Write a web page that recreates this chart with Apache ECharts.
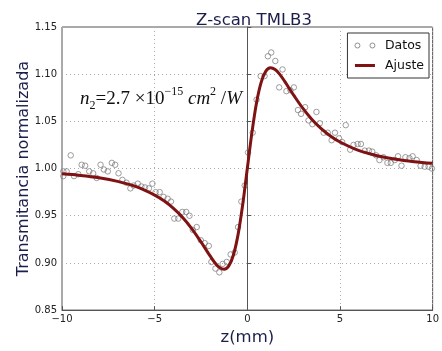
<!DOCTYPE html>
<html>
<head>
<meta charset="utf-8">
<script src="https://cdn.jsdelivr.net/npm/echarts@6/dist/echarts.min.js"></script>
<style>
  html, body { margin: 0; padding: 0; background: #fff; }
  #chart { width: 442px; height: 351px; }
</style>
</head>
<body>
<div id="chart"></div>
<script>
// Measured transmittance (position z in mm)
const dataZ = [
  -9.93, -9.93, -9.75, -9.53, -9.35, -9.12, -8.94, -8.75, -8.53, -8.32, -8.13,
  -7.92, -7.74, -7.53, -7.31, -7.13, -6.95, -6.74, -6.52, -6.31, -6.13, -5.91,
  -5.72, -5.52, -5.31, -5.12, -4.95, -4.73, -4.52, -4.30, -4.12, -3.94, -3.73,
  -3.51, -3.30, -3.12, -2.94, -2.73, -2.51, -2.30, -2.08, -1.94, -1.72, -1.51,
  -1.33, -1.11, -0.90, -0.68, -0.50, -0.32, -0.14, 0.04,
  0.29, 0.50, 0.72, 0.93, 1.11, 1.29, 1.51, 1.72, 1.90, 2.11, 2.33, 2.51, 2.73,
  2.90, 3.12, 3.30, 3.51, 3.73, 3.91, 4.12, 4.34, 4.55, 4.73, 4.95, 5.12, 5.31,
  5.55, 5.73, 5.95, 6.13, 6.34, 6.56, 6.74, 6.95, 7.13, 7.35, 7.56, 7.74, 7.96,
  8.13, 8.32, 8.53, 8.75, 8.92, 9.14, 9.35, 9.57, 9.78, 9.96
];
const dataT = [
  0.992, 0.997, 0.997, 1.014, 0.992, 0.994, 1.004, 1.003, 0.997, 0.995, 0.990,
  1.004, 0.999, 0.997, 1.006, 1.004, 0.995, 0.988, 0.985, 0.979, 0.982, 0.984,
  0.981, 0.980, 0.979, 0.984, 0.975, 0.975, 0.970, 0.968, 0.965, 0.947, 0.947,
  0.954, 0.954, 0.950, 0.935, 0.938, 0.924, 0.921, 0.918, 0.901, 0.894, 0.890,
  0.899, 0.901, 0.909, 0.911, 0.938, 0.965, 0.982, 1.017,
  1.038, 1.073, 1.098, 1.098, 1.119, 1.123, 1.114, 1.086, 1.105, 1.082, 1.083,
  1.086, 1.062, 1.058, 1.065, 1.051, 1.047, 1.060, 1.048, 1.038, 1.038, 1.030,
  1.038, 1.032, 1.028, 1.046, 1.020, 1.025, 1.026, 1.026, 1.019, 1.019, 1.018,
  1.014, 1.009, 1.012, 1.006, 1.006, 1.009, 1.013, 1.003, 1.012, 1.011, 1.013,
  1.009, 1.003, 1.002, 1.002, 1.000
];

// Fitted curve
const fitZ = [
  -10, -9, -8, -7, -6, -5, -4.5, -4, -3.5, -3, -2.5, -2.25, -2, -1.75, -1.5,
  -1.25, -1, -0.75, -0.5, -0.25, 0, 0.25, 0.5, 0.75, 1, 1.25, 1.5, 1.75, 2,
  2.25, 2.5, 3, 3.5, 4, 4.5, 5, 6, 7, 8, 9, 10
];
const fitT = [
  0.9944, 0.9927, 0.9902, 0.9864, 0.9808, 0.9719, 0.9658, 0.9580, 0.9483,
  0.9363, 0.9222, 0.9146, 0.9071, 0.9002, 0.8951, 0.8932, 0.8968, 0.9084,
  0.9300, 0.9617, 1.0000, 1.0383, 1.0700, 1.0916, 1.1032, 1.1068, 1.1049,
  1.0998, 1.0929, 1.0854, 1.0778, 1.0637, 1.0517, 1.0420, 1.0342, 1.0281,
  1.0192, 1.0136, 1.0098, 1.0073, 1.0056
];

const xTicks = { min: -10, max: 10, interval: 5 };
const yTicks = { min: 0.85, max: 1.15, interval: 0.05 };

const navy = '#1b1e4b';
const fitColor = '#7f1212';

const chart = echarts.init(document.getElementById('chart'), null, { renderer: 'canvas' });

const scatterPts = dataZ.map((z, i) => [z, dataT[i]]);
const fitPts = fitZ.map((z, i) => [z, fitT[i]]);

chart.setOption({
  animation: false,
  backgroundColor: '#fff',
  title: {
    text: 'Z-scan TMLB3',
    left: 249,
    top: 7,
    textAlign: 'center',
    textStyle: { fontFamily: 'DejaVu Sans', fontSize: 16.5, fontWeight: 'normal', color: navy }
  },
  grid: {
    left: 62, right: 8, top: 27, bottom: 35,
    show: true, borderColor: '#555', borderWidth: 1, backgroundColor: 'transparent'
  },
  legend: {
    orient: 'vertical',
    right: 13,
    top: 33,
    padding: [6, 5, 6, 6],
    itemGap: 7,
    itemWidth: 20,
    itemHeight: 10,
    borderColor: '#333',
    borderWidth: 1,
    backgroundColor: '#fff',
    textStyle: { fontFamily: 'DejaVu Sans', fontSize: 12.5, color: '#111', padding: [0, 0, 0, 5] },
    data: [
      {
        name: 'Datos',
        icon: 'path://M0,2.5a2.5,2.5 0 1,0 5,0a2.5,2.5 0 1,0 -5,0M15,2.5a2.5,2.5 0 1,0 5,0a2.5,2.5 0 1,0 -5,0',
        itemStyle: { color: 'rgba(0,0,0,0)', borderColor: '#777', borderWidth: 1 }
      },
      {
        name: 'Ajuste',
        itemStyle: { opacity: 0 },
        lineStyle: { color: fitColor, width: 3, opacity: 1 }
      }
    ]
  },
  xAxis: {
    type: 'value',
    min: xTicks.min, max: xTicks.max, interval: xTicks.interval,
    name: 'z(mm)',
    nameLocation: 'middle',
    nameGap: 17,
    nameTextStyle: { fontFamily: 'DejaVu Sans', fontSize: 16.5, color: navy },
    axisLine: { onZero: false, lineStyle: { color: '#555' } },
    axisTick: { inside: true, length: 4, lineStyle: { color: '#555' } },
    axisLabel: {
      fontFamily: 'DejaVu Sans', fontSize: 10, color: '#222', margin: 4,
      formatter: v => String(v).replace('-', '\u2212')
    },
    splitLine: { show: true, lineStyle: { color: '#aaa', type: [1, 3], width: 1 } }
  },
  yAxis: {
    type: 'value',
    min: yTicks.min, max: yTicks.max, interval: yTicks.interval,
    name: 'Transmitancia normalizada',
    nameLocation: 'middle',
    nameGap: 30,
    nameMoveOverlap: false,
    nameTextStyle: { fontFamily: 'DejaVu Sans', fontSize: 16, color: navy },
    axisLine: { show: true, lineStyle: { color: '#555' } },
    axisTick: { show: true, inside: true, length: 4, lineStyle: { color: '#555' } },
    axisLabel: {
      fontFamily: 'DejaVu Sans', fontSize: 10, color: '#222', margin: 5,
      formatter: v => v.toFixed(2)
    },
    splitLine: { show: true, lineStyle: { color: '#aaa', type: [1, 3], width: 1 } }
  },
  graphic: [
    {
      type: 'text',
      left: 80,
      top: 86,
      style: {
        text: '{i|n}{sub|2}{t|=2.7 ×10}{sup|\u221215}{i| cm}{sup|2}{t| /}{i|W}',
        rich: {
          i: { fontFamily: 'Liberation Serif', fontStyle: 'italic', fontSize: 19, lineHeight: 26, verticalAlign: 'middle', fill: '#111' },
          t: { fontFamily: 'Liberation Serif', fontSize: 19, lineHeight: 26, verticalAlign: 'middle', fill: '#111' },
          sup: { fontFamily: 'Liberation Serif', fontSize: 12, lineHeight: 12, verticalAlign: 'top', fill: '#111' },
          sub: { fontFamily: 'Liberation Serif', fontSize: 12, lineHeight: 12, verticalAlign: 'bottom', fill: '#111' }
        }
      },
      z: 10
    }
  ],
  series: [
    {
      name: 'Datos',
      type: 'scatter',
      data: scatterPts,
      symbol: 'circle',
      symbolSize: 5.5,
      itemStyle: { color: 'rgba(0,0,0,0)', borderColor: '#777', borderWidth: 0.9 },
      z: 3
    },
    {
      name: 'Ajuste',
      type: 'line',
      data: fitPts,
      smooth: 0.35,
      symbol: 'none',
      lineStyle: { color: fitColor, width: 3 },
      itemStyle: { color: fitColor },
      z: 4
    }
  ]
});
</script>
</body>
</html>
